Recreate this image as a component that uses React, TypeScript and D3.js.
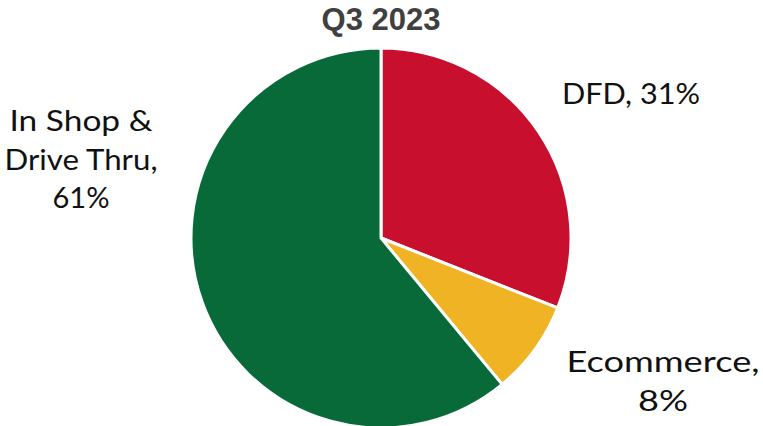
import React from "react";
import * as d3 from "d3";

const categories = ["DFD", "Ecommerce", "In Shop & Drive Thru"];
const values = [31, 8, 61];
const colors = ["#C8102E", "#F0B323", "#076A38"];
const labelLines = [["DFD, 31%"], ["Ecommerce,", "8%"], ["In Shop &", "Drive Thru,", "61%"]];
const title = "Q3 2023";

export default function App() {
  const W = 763, H = 426;
  const cx = 381, cy = 238, r = 190;
  const pie = d3.pie<number>().sort(null).value((d) => d)(values);
  const arc = d3.arc<d3.PieArcDatum<number>>().innerRadius(0).outerRadius(r);
  const labelPos = [
    { x: 562, y: 104, anchor: "start", widths: [138] },
    { x: 663, y: 372, anchor: "middle", widths: [193, 50] },
    { x: 81, y: 131, anchor: "middle", widths: [143, 153, 57] },
  ];
  const lh = 38.5;
  return (
    <svg width={W} height={H} style={{ position: "absolute", left: 0, top: 0 }}>
      <rect width={W} height={H} fill="#fff" />
      <text x={cx} y={30} textAnchor="middle" fontFamily="Liberation Sans, Arial, sans-serif" fontWeight="bold" fontSize={31} fill="#404040">{title}</text>
      <g transform={`translate(${cx},${cy})`}>
        {pie.map((p, i) => (
          <path key={categories[i]} d={arc(p) || ""} fill={colors[i]} stroke="#fff" strokeWidth={3} strokeLinejoin="miter" />
        ))}
      </g>
      {labelLines.map((lines, i) => (
        <text key={i} textAnchor={labelPos[i].anchor as any} fontFamily="Lato, sans-serif" fontWeight={400} fontSize={29} fill="#111">
          {lines.map((l, j) => (
            <tspan key={j} x={labelPos[i].x} y={labelPos[i].y + j * lh} textLength={labelPos[i].widths[j]} lengthAdjust="spacingAndGlyphs">{l}</tspan>
          ))}
        </text>
      ))}
    </svg>
  );
}
